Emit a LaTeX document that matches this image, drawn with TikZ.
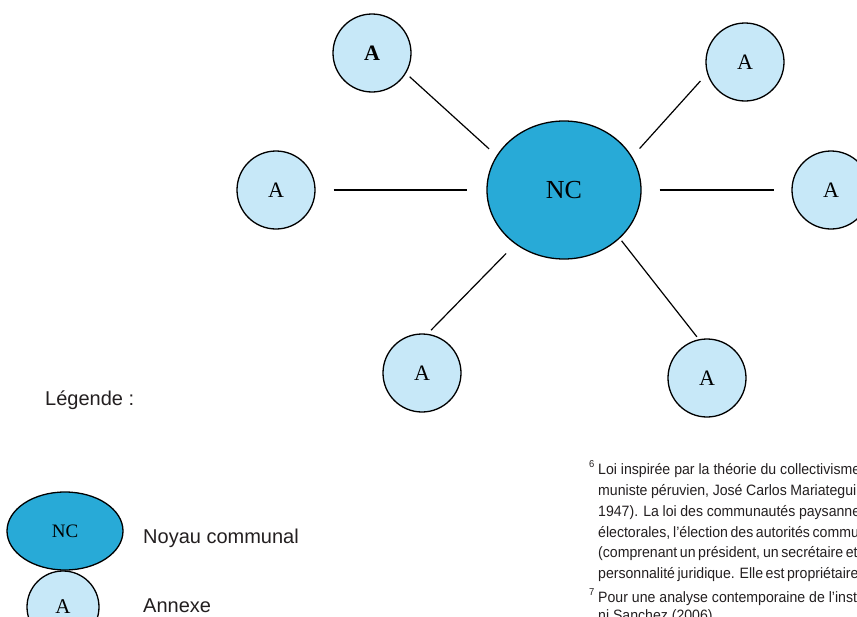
\documentclass[tikz,border=0pt]{standalone}
\usepackage{fontspec}
\setmainfont{Liberation Serif}
\newfontfamily\legfont{Liberation Sans}
\newfontfamily\fnfont[FakeStretch=0.94]{Liberation Sans}
\usetikzlibrary{shapes.geometric}
\definecolor{ncblue}{RGB}{40,170,215}
\definecolor{alight}{RGB}{199,232,248}
\definecolor{fngray}{RGB}{35,31,32}
\begin{document}
\begin{tikzpicture}[x=1pt,y=-1pt,
  anode/.style={circle,draw=black,line width=1.3pt,fill=alight,minimum size=78pt,inner sep=0pt,font=\fontsize{22}{22}\selectfont},
  ncnode/.style={ellipse,draw=black,line width=1.3pt,fill=ncblue,minimum width=154pt,minimum height=138pt,inner sep=0pt,font=\fontsize{26}{26}\selectfont},
  link/.style={line width=1.2pt},
  legtext/.style={anchor=west,inner sep=0pt,text=fngray,font=\legfont\fontsize{20}{20}\selectfont},
  fnline/.style={anchor=base west,inner sep=0pt,text=fngray,font=\fnfont\fontsize{15}{15}\selectfont},
  fnmark/.style={anchor=base west,inner sep=0pt,text=fngray,font=\fnfont\fontsize{10}{10}\selectfont}]
\useasboundingbox (0,0) rectangle (857,616);
\fill[white] (0,0) rectangle (857,616);
\clip (0,0) rectangle (857,616);

% main diagram
\node[ncnode] (nc) at (564,190) {NC};
\node[anode] (tl) at (372,53) {\textbf{A}};
\node[anode] (tr) at (745,62) {A};
\node[anode] (l) at (276,190) {A};
\node[anode] (r) at (831,190) {A};
\node[anode] (bl) at (422,373) {A};
\node[anode] (br) at (707,378) {A};

\draw[link,shorten <=5pt,shorten >=10pt] (tl.-31) -- (nc.153);
\draw[link,shorten <=10pt,shorten >=11pt] (tr.197) -- (nc.26);
\draw[link,shorten <=18pt,shorten >=19pt] (l.east) -- (nc.west);
\draw[link,shorten <=18pt,shorten >=17pt] (nc.east) -- (r.west);
\draw[link,shorten <=5pt,shorten >=13pt] (bl.82) -- (nc.228);
\draw[link,shorten <=3pt,shorten >=3pt] (nc.-41) -- (br.102);

% legend
\node[legtext] (legtitle) at (45,400) {Légende :};
\node[ellipse,draw=black,line width=1.3pt,fill=ncblue,minimum width=116pt,minimum height=78pt,inner sep=0pt,font=\fontsize{19}{19}\selectfont] (legnc) at (65,531) {NC};
\node[legtext] (legnctext) at (143,538) {Noyau communal};
\node[anode,minimum size=72pt,font=\fontsize{21}{21}\selectfont] (lega) at (63,607) {A};
\node[legtext] (legatext) at (143,606) {Annexe};

% footnotes
\node[fnmark] (m6) at (589,467) {6};
\node[fnline] (f1) at (598,474) {\hbox to 262pt{Loi inspirée par la théorie du collectivisme}};
\node[fnline] (f2) at (598,495) {\hbox to 262pt{muniste péruvien, José Carlos Mariategui,}};
\node[fnline] (f3) at (598,516) {\hbox to 262pt{1947). La loi des communautés paysanne}};
\node[fnline] (f4) at (598,537) {\hbox to 262pt{électorales, l’élection des autorités commun}};
\node[fnline] (f5) at (598,557) {\hbox to 256pt{(comprenant un président, un secrétaire et}};
\node[fnline] (f6) at (598,578) {\hbox to 262pt{personnalité juridique. Elle est propriétaire c}};
\node[fnmark] (m7) at (589,595) {7};
\node[fnline] (f7) at (598,602) {\hbox to 262pt{Pour une analyse contemporaine de l’insti}};
\node[fnline] (f8) at (598,620) {ni Sanchez (2006).};
\end{tikzpicture}
\end{document}
